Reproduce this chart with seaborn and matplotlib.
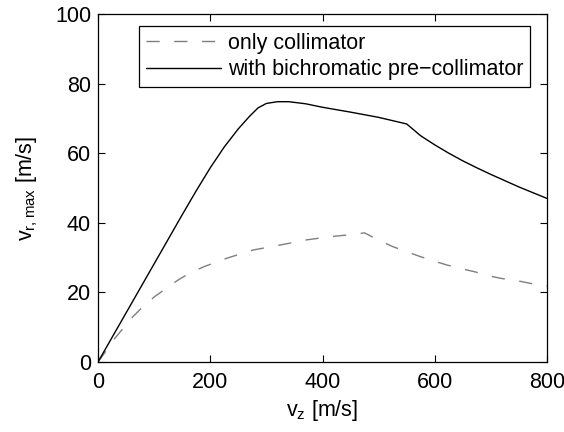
import matplotlib
matplotlib.use("Agg")
import matplotlib.pyplot as plt
import seaborn as sns
import pandas as pd

# Axial velocity samples (m/s) and maximum captured radial velocity (m/s)
vz_collimator = [0, 15, 30, 47, 62, 80, 101, 122, 143, 163, 189, 229, 277, 324,
                 372, 413, 450, 475, 500, 526, 550, 574, 597, 621, 645, 672,
                 695, 719, 746, 770, 800]
vr_collimator = [0, 3.3, 6.8, 10.1, 13.0, 15.9, 18.8, 21.2, 23.6, 25.5, 27.4,
                 29.8, 32.2, 33.6, 35.1, 36.0, 36.6, 37.1, 35.0, 33.1, 31.7,
                 30.3, 29.1, 27.9, 26.9, 25.9, 24.8, 24.0, 23.4, 22.6, 21.8]

vz_bichromatic = [0, 50, 100, 150, 175, 200, 225, 250, 270, 285, 300, 320, 340,
                  370, 400, 450, 500, 550, 575, 600, 625, 650, 675, 700, 750, 800]
vr_bichromatic = [0, 14.1, 28.2, 42.3, 49.2, 55.8, 61.8, 67.0, 70.6, 73.0, 74.3,
                  74.8, 74.8, 74.2, 73.2, 71.8, 70.3, 68.4, 65.0, 62.4, 60.0,
                  57.8, 55.8, 53.9, 50.3, 47.0]

labels = ["only collimator", "with bichromatic pre\u2212collimator"]
x_ticks = [0, 200, 400, 600, 800]
y_ticks = [0, 20, 40, 60, 80, 100]

sns.set_theme(style="white")
plt.rcParams["font.family"] = ["Liberation Sans", "DejaVu Sans"]
plt.rcParams["mathtext.default"] = "regular"
plt.rcParams["text.color"] = "black"
plt.rcParams["axes.labelcolor"] = "black"

FS = 15.5

fig = plt.figure(figsize=(5.64, 4.32), dpi=100)
ax = fig.add_axes([98 / 564, 1 - 362 / 432, 449 / 564, 348 / 432])

df_c = pd.DataFrame({"vz": vz_collimator, "vr": vr_collimator})
df_b = pd.DataFrame({"vz": vz_bichromatic, "vr": vr_bichromatic})

sns.lineplot(data=df_c, x="vz", y="vr", ax=ax, color="#7f7f7f", lw=1.0,
             label=labels[0], sort=False)
ax.lines[-1].set_dashes((9.5, 10.5))
sns.lineplot(data=df_b, x="vz", y="vr", ax=ax, color="black", lw=1.0,
             label=labels[1], sort=False)

ax.set_xlim(0, 800)
ax.set_ylim(0, 100)
ax.set_xticks(x_ticks)
ax.set_yticks(y_ticks)
ax.tick_params(direction="in", length=5, width=0.8, labelsize=FS,
               top=True, right=True, bottom=True, left=True, colors="black")
ax.tick_params(axis="x", pad=7)
ax.tick_params(axis="y", pad=5)
for s in ax.spines.values():
    s.set_visible(True)
    s.set_color("black")
    s.set_linewidth(0.9)

ax.set_xlabel("v$_z$ [m/s]", fontsize=FS, labelpad=4, color="black")
ax.set_ylabel("v$_{r,max}$ [m/s]", fontsize=FS, labelpad=11, color="black")

leg = ax.legend(loc="upper right", bbox_to_anchor=(0.962, 0.9655),
                borderaxespad=0, fontsize=FS, frameon=True, fancybox=False,
                framealpha=1, edgecolor="black", handlelength=3.5,
                handletextpad=0.3, borderpad=0.32, labelspacing=0.25)
leg.get_frame().set_linewidth(0.9)
for t in leg.get_texts():
    t.set_color("black")

fig.savefig("out.png", dpi=100)
